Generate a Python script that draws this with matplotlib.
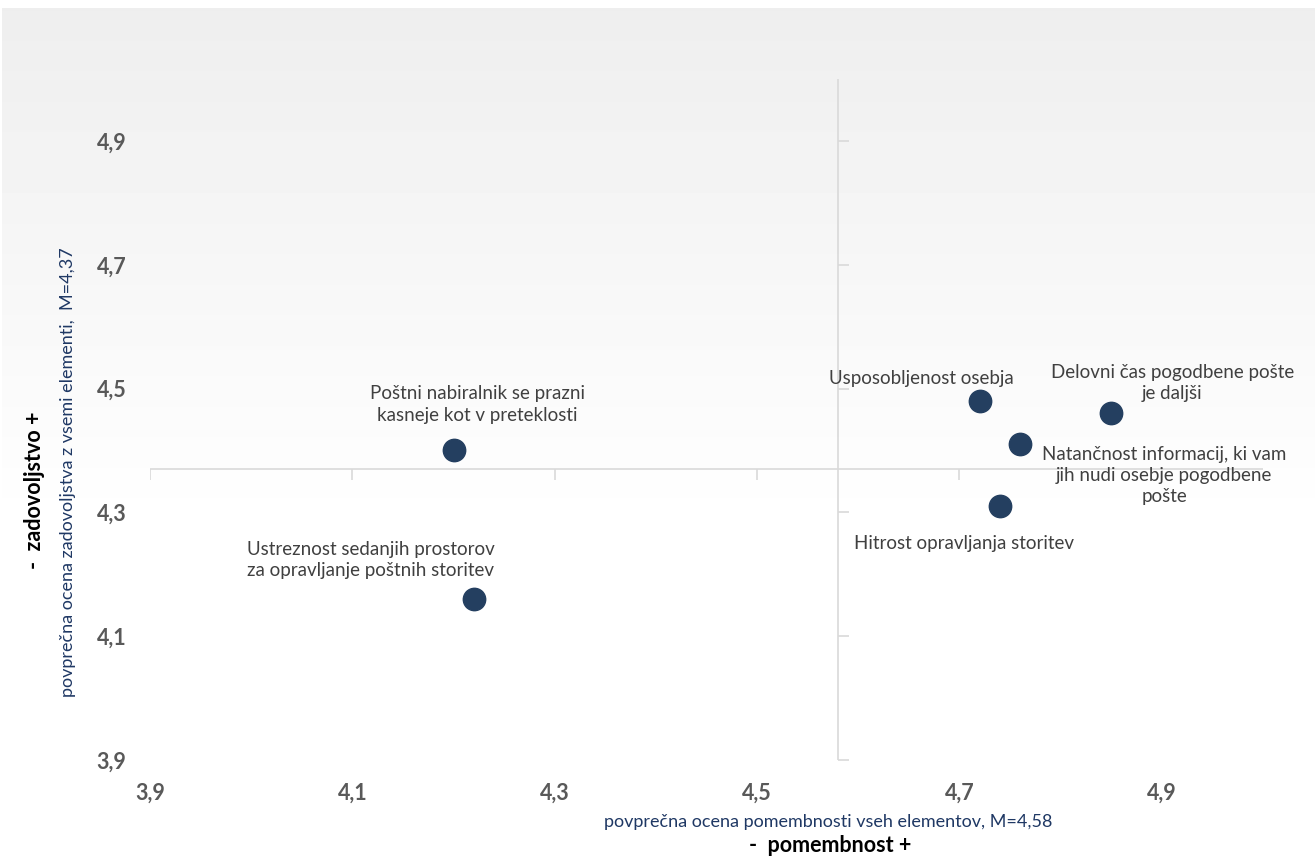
import matplotlib.pyplot as plt
import numpy as np

# importance (x) vs. satisfaction (y), mean scores per element
labels = [
    'Poštni nabiralnik se prazni\nkasneje kot v preteklosti',
    'Ustreznost sedanjih prostorov\nza opravljanje poštnih storitev',
    'Usposobljenost osebja',
    'Delovni čas pogodbene pošte\nje daljši',
    'Natančnost informacij, ki vam\njih nudi osebje pogodbene\npošte',
    'Hitrost opravljanja storitev',
]
importance = [4.20, 4.22, 4.72, 4.85, 4.76, 4.74]
satisfaction = [4.40, 4.16, 4.48, 4.46, 4.41, 4.31]

mean_importance = 4.58
mean_satisfaction = 4.37

ticks = [3.9, 4.1, 4.3, 4.5, 4.7, 4.9]
tick_labels = ['3,9', '4,1', '4,3', '4,5', '4,7', '4,9']

# label offsets in pixels relative to each point
offsets = [(24, 46), (-103, 39), (-58, 22), (61, 30), (144, -31), (-36, -37)]

plt.rcParams['font.family'] = ['Lato', 'DejaVu Sans']

W, H = 1315, 856
fig = plt.figure(figsize=(W / 100, H / 100), dpi=100)

# background: soft grey fading to white
bg = fig.add_axes([2 / W, 0, 1 - 2 / W, (H - 8) / H])
rows = H - 8
grad = np.clip(np.arange(rows) / 520.0, 0, 1)
grad = 238 / 255 + (1 - 238 / 255) * grad
bg.imshow(np.tile(grad[:, None], (1, 8)), aspect='auto', cmap='gray',
          vmin=0, vmax=1, interpolation='nearest')
bg.axis('off')

ax = fig.add_axes([150 / W, 96 / H, 1113 / W, 681 / H])
ax.patch.set_alpha(0)
ax.set_xlim(3.9, 5.0)
ax.set_ylim(3.9, 5.0)
for s in ax.spines.values():
    s.set_visible(False)

ax.set_xticks(ticks)
ax.set_xticklabels(tick_labels)
ax.set_yticks(ticks)
ax.set_yticklabels(tick_labels)
ax.tick_params(length=0, labelsize=15.5, labelcolor='#595959')
ax.tick_params(axis='x', pad=16)
ax.tick_params(axis='y', pad=17)
for t in ax.get_xticklabels() + ax.get_yticklabels():
    t.set_fontweight('bold')

# crossing lines at the means, with their tick marks
line_c = '#d9d9d9'
ax.axhline(mean_satisfaction, color=line_c, lw=1.2, zorder=1)
ax.axvline(mean_importance, color=line_c, lw=1.2, zorder=1)
ax.plot(ticks, [mean_satisfaction] * len(ticks), ls='none', marker=3,
        ms=8, mew=1.2, color=line_c, zorder=1)
ax.plot([mean_importance] * len(ticks), ticks, ls='none', marker=1,
        ms=8, mew=1.2, color=line_c, zorder=1)

ax.scatter(importance, satisfaction, s=260, color='#243f60', zorder=3)

for lab, x, y, off in zip(labels, importance, satisfaction, offsets):
    ax.annotate(lab, (x, y), xytext=off, textcoords='offset pixels',
                ha='center', va='center', fontsize=13.5, color='#404040',
                linespacing=1.3)

fig.text(828 / W, 1 - 822 / H,
         'povprečna ocena pomembnosti vseh elementov, M=4,58',
         ha='center', va='center', fontsize=13, color='#1f3864')
fig.text(830 / W, 1 - 845 / H, '-  pomembnost +', ha='center', va='center',
         fontsize=15.5, fontweight='bold', color='black')
fig.text(68 / W, 1 - 472 / H,
         'povprečna ocena zadovoljstva z vsemi elementi,  M=4,37',
         ha='center', va='center', rotation=90, fontsize=13,
         color='#1f3864')
fig.text(35 / W, 1 - 490 / H, '-  zadovoljstvo +', ha='center', va='center',
         rotation=90, fontsize=15.5, fontweight='bold', color='black')

fig.savefig('out.png', dpi=100)
